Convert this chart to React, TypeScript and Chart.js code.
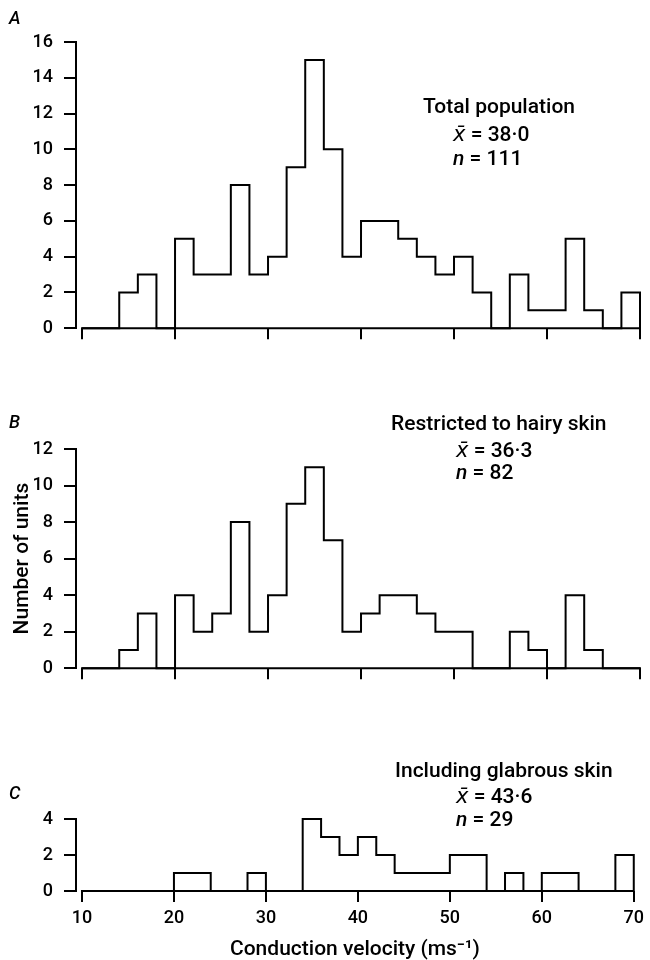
import React, { useEffect, useRef } from "react";
import { Chart, registerables } from "chart.js";

Chart.register(...registerables);

// ---- data ----
const binEdges = [10, 12, 14, 16, 18, 20, 22, 24, 26, 28, 30, 32, 34, 36, 38, 40, 42, 44, 46, 48, 50, 52, 54, 56, 58, 60, 62, 64, 66, 68, 70];
const countsA = [0, 0, 2, 3, 0, 5, 3, 3, 8, 3, 4, 9, 15, 10, 4, 6, 6, 5, 4, 3, 4, 2, 0, 3, 1, 1, 5, 1, 0, 2];
const countsB = [0, 0, 1, 3, 0, 4, 2, 3, 8, 2, 4, 9, 11, 7, 2, 3, 4, 4, 3, 2, 2, 0, 0, 2, 1, 0, 4, 1, 0, 0];
const countsC = [0, 0, 0, 0, 0, 1, 1, 0, 0, 1, 0, 0, 4, 3, 2, 3, 2, 1, 1, 1, 2, 2, 0, 1, 0, 1, 1, 0, 0, 2];
const xTickValues = [10, 20, 30, 40, 50, 60, 70];
const yTicksA = [0, 2, 4, 6, 8, 10, 12, 14, 16];
const yTicksB = [0, 2, 4, 6, 8, 10, 12];
const yTicksC = [0, 2, 4];
const xTitle = "Conduction velocity (ms\u207B\u00B9)";
const yTitle = "Number of units";

const FONT = "Roboto";

// points for a step outline: value counts[i] holds over [edge i, edge i+1]
function stepPoints(counts: number[]) {
  const last = binEdges.length - 1;
  const pts = [{ x: binEdges[0], y: 0 }, { x: binEdges[0], y: counts[0] }];
  for (let i = 1; i < counts.length; i++) pts.push({ x: binEdges[i], y: counts[i] });
  pts.push({ x: binEdges[last], y: counts[counts.length - 1] });
  pts.push({ x: binEdges[last], y: 0 });
  return pts;
}

type PanelCfg = {
  top: number;
  height: number;
  padTop: number;
  xHeight: number;
  counts: number[];
  yTicks: number[];
  showX: boolean;
  yTitle?: string;
};

const panels: PanelCfg[] = [
  { top: 0, height: 350, padTop: 42, xHeight: 17, counts: countsA, yTicks: yTicksA, showX: false },
  { top: 360, height: 330, padTop: 89, xHeight: 18, counts: countsB, yTicks: yTicksB, showX: false, yTitle },
  { top: 700, height: 260, padTop: 119, xHeight: 69, counts: countsC, yTicks: yTicksC, showX: true },
];

function Panel({ cfg }: { cfg: PanelCfg }) {
  const ref = useRef<HTMLCanvasElement | null>(null);
  useEffect(() => {
    if (!ref.current) return;
    const last = binEdges.length - 1;
    const tickFont = { family: FONT, size: 18, weight: "500" as any };
    const chart = new Chart(ref.current, {
      type: "line",
      data: {
        datasets: [
          {
            data: stepPoints(cfg.counts),
            stepped: "before",
            borderColor: "#000",
            borderWidth: 2,
            pointRadius: 0,
            fill: false,
            clip: false as any,
            borderJoinStyle: "miter",
            borderCapStyle: "square",
          },
          {
            data: [
              { x: binEdges[0], y: 0 },
              { x: binEdges[last], y: 0 },
            ],
            borderColor: "#000",
            borderWidth: 2,
            pointRadius: 0,
            fill: false,
            clip: false as any,
          },
        ],
      },
      options: {
        animation: false,
        responsive: false,
        events: [],
        layout: { padding: { top: cfg.padTop, right: 10, left: 0, bottom: 0 } },
        plugins: { legend: { display: false }, tooltip: { enabled: false } },
        scales: {
          x: {
            type: "linear",
            min: 9.35,
            max: 70,
            bounds: "data",
            afterBuildTicks: (s: any) => {
              s.ticks = xTickValues.map((v) => ({ value: v }));
            },
            afterFit: (s: any) => {
              s.height = cfg.xHeight;
            },
            grid: { drawOnChartArea: false, drawTicks: true, tickLength: 11, lineWidth: 2, color: "#000" },
            border: { display: false },
            ticks: {
              display: cfg.showX,
              font: tickFont,
              color: "#000",
              padding: 6,
              maxRotation: 0,
              autoSkip: false,
            },
            title: {
              display: cfg.showX,
              text: xTitle,
              color: "#000",
              font: { family: FONT, size: 21, weight: "500" as any, lineHeight: 1 },
              padding: { top: 0, bottom: 0 },
            },
          },
          y: {
            min: 0,
            max: cfg.yTicks[cfg.yTicks.length - 1],
            afterBuildTicks: (s: any) => {
              s.ticks = cfg.yTicks.map((v) => ({ value: v }));
            },
            afterFit: (s: any) => {
              s.width = 76;
            },
            grid: { drawOnChartArea: false, drawTicks: true, tickLength: 12, lineWidth: 2, color: "#000" },
            border: { display: true, color: "#000", width: 2 },
            ticks: { font: tickFont, color: "#000", padding: 11, autoSkip: false },
            title: {
              display: !!cfg.yTitle,
              text: cfg.yTitle || "",
              color: "#000",
              font: { family: FONT, size: 21, weight: "500" as any, lineHeight: 1.2 },
              padding: { top: 10, bottom: 0 },
            },
          },
        },
      } as any,
    });
    return () => chart.destroy();
  }, [cfg]);
  return (
    <canvas
      ref={ref}
      width={650}
      height={cfg.height}
      style={{ position: "absolute", left: 0, top: cfg.top, width: 650, height: cfg.height, display: "block" }}
    />
  );
}

const textBase: React.CSSProperties = {
  position: "absolute",
  fontFamily: FONT,
  fontWeight: 500,
  color: "#000",
  whiteSpace: "nowrap",
  lineHeight: 1,
};

function T({ left, top, size, italic, children }: { left: number; top: number; size: number; italic?: boolean; children: React.ReactNode }) {
  return <div style={{ ...textBase, left, top, fontSize: size, fontStyle: italic ? "italic" : "normal" }}>{children}</div>;
}

const xbar = <i style={{ fontFamily: "DejaVu Sans", fontWeight: 400 }}>x̄</i>;

export default function App() {
  return (
    <div style={{ position: "absolute", left: 0, top: 0, width: 650, height: 960, background: "#fff", overflow: "hidden" }}>
      {panels.map((p, i) => (
        <Panel key={i} cfg={p} />
      ))}
      <T left={9} top={9} size={18} italic>A</T>
      <T left={9} top={413} size={18} italic>B</T>
      <T left={9} top={784} size={18} italic>C</T>

      <T left={423} top={96} size={21}>Total population</T>
      <T left={453} top={123.5} size={21}>{xbar} = 38·0</T>
      <T left={453} top={148} size={21}><i>n</i> = 111</T>

      <T left={391} top={413} size={21}>Restricted to hairy skin</T>
      <T left={456} top={439.5} size={21}>{xbar} = 36·3</T>
      <T left={456} top={462} size={21}><i>n</i> = 82</T>

      <T left={395} top={760} size={21}>Including glabrous skin</T>
      <T left={456} top={785.5} size={21}>{xbar} = 43·6</T>
      <T left={456} top={809} size={21}><i>n</i> = 29</T>
    </div>
  );
}
